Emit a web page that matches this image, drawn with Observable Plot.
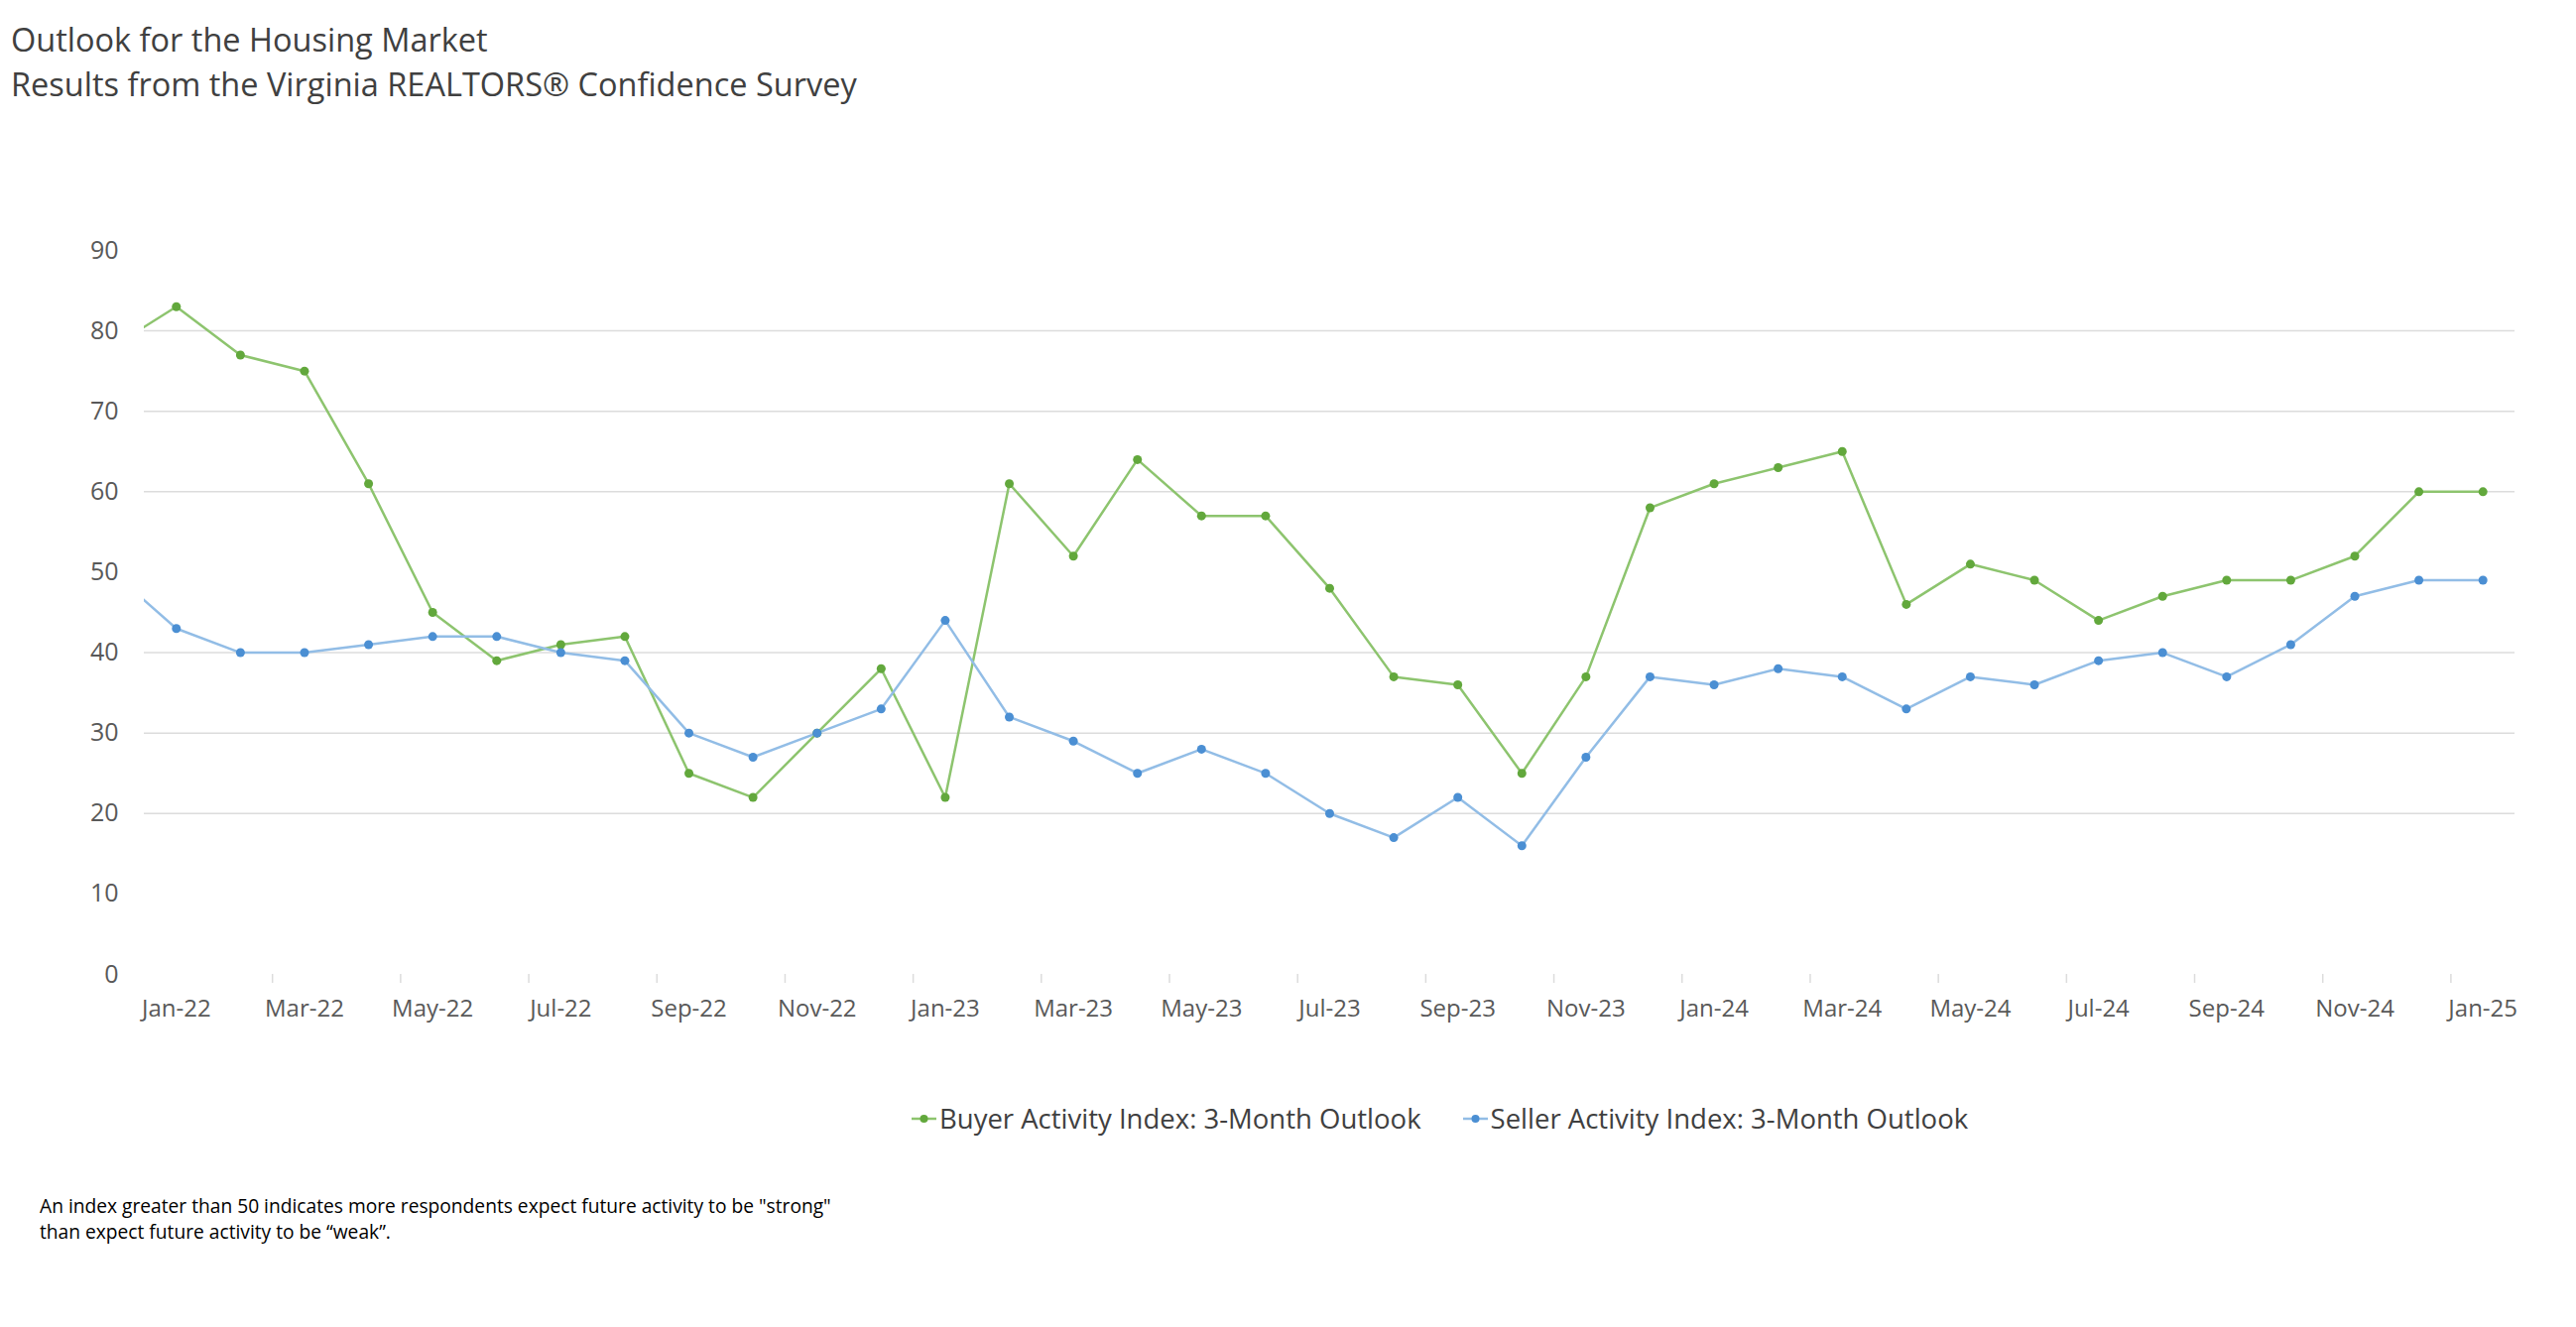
<!DOCTYPE html>
<html>
<head>
<meta charset="utf-8">
<script src="https://cdn.jsdelivr.net/npm/d3@7"></script>
<script src="https://cdn.jsdelivr.net/npm/@observablehq/plot@0.6"></script>
<style>
  html, body { margin: 0; padding: 0; background: #fff; }
  body { width: 2597px; height: 1338px; position: relative; font-family: "Open Sans", sans-serif; overflow: hidden; }
  #header { position: absolute; left: 11px; top: 17px; color: #404040; font-size: 32.5px; line-height: 45px; }
  #chart { position: absolute; left: 0; top: 120px; }
  #legend { position: absolute; left: 919px; top: 1109px; display: flex; align-items: center; font-size: 27.5px; color: #404040; white-space: nowrap; }
  .item { display: flex; align-items: center; margin-right: 42px; }
  .item svg { margin-right: 3px; }
  #note { position: absolute; left: 40px; top: 1203px; font-size: 19.2px; line-height: 26px; color: #000; }
</style>
</head>
<body>
<div id="header">
  <div>Outlook for the Housing Market</div>
  <div>Results from the Virginia REALTORS® Confidence Survey</div>
</div>
<div id="chart"></div>
<div id="legend"></div>
<div id="note">An index greater than 50 indicates more respondents expect future activity to be "strong"<br>than expect future activity to be “weak”.</div>
<script>
// Months from Dec-21 (partially visible at the left edge) through Jan-25
const months = ["Dec-21",
  "Jan-22","Feb-22","Mar-22","Apr-22","May-22","Jun-22","Jul-22","Aug-22","Sep-22","Oct-22","Nov-22","Dec-22",
  "Jan-23","Feb-23","Mar-23","Apr-23","May-23","Jun-23","Jul-23","Aug-23","Sep-23","Oct-23","Nov-23","Dec-23",
  "Jan-24","Feb-24","Mar-24","Apr-24","May-24","Jun-24","Jul-24","Aug-24","Sep-24","Oct-24","Nov-24","Dec-24",
  "Jan-25"];
const buyer = [78,
  83,77,75,61,45,39,41,42,25,22,30,38,
  22,61,52,64,57,57,48,37,36,25,37,58,
  61,63,65,46,51,49,44,47,49,49,52,60,
  60];
const seller = [50,
  43,40,40,41,42,42,40,39,30,27,30,33,
  44,32,29,25,28,25,20,17,22,16,27,37,
  36,38,37,33,37,36,39,40,37,41,47,49,
  49];
const seriesNames = ["Buyer Activity Index: 3-Month Outlook", "Seller Activity Index: 3-Month Outlook"];
const lineColors = ["#8dc46e", "#92bde6"];
const dotColors = ["#62a83c", "#4b8fd3"];
const yTicks = [0,10,20,30,40,50,60,70,80,90];
const gridValues = [20,30,40,60,70,80];
const xLabelMonths = ["Jan-22","Mar-22","May-22","Jul-22","Sep-22","Nov-22","Jan-23","Mar-23","May-23","Jul-23","Sep-23","Nov-23","Jan-24","Mar-24","May-24","Jul-24","Sep-24","Nov-24","Jan-25"];

const idx = m => months.indexOf(m) - 1; // Jan-22 -> 0
const rows = [];
months.forEach((m, i) => {
  rows.push({x: i - 1, v: buyer[i], s: seriesNames[0]});
  rows.push({x: i - 1, v: seller[i], s: seriesNames[1]});
});
const labelPos = xLabelMonths.map(idx);
const tickPos = labelPos.map(p => p - 0.5).filter(p => p > -0.5);

const chart = Plot.plot({
  width: 2597,
  height: 940,
  marginLeft: 145,
  marginRight: 62,
  marginTop: 132,
  marginBottom: 78,
  style: {fontFamily: "Open Sans, sans-serif", color: "#595959", background: "#fff"},
  x: {type: "linear", domain: [-0.5, labelPos[labelPos.length - 1] + 0.5], label: null},
  y: {domain: [0, 90], label: null},
  color: {domain: seriesNames, range: lineColors},
  marks: [
    Plot.ruleY(gridValues, {stroke: "#dcdcdc", strokeWidth: 1.5}),
    Plot.axisY(yTicks, {tickSize: 0, tickPadding: 26, fontSize: 25, fill: "#595959"}),
    Plot.axisX(labelPos, {tickSize: 0, tickPadding: 25, fontSize: 24, fill: "#595959", tickFormat: d => months[d + 1]}),
    Plot.axisX(tickPos, {tickSize: 9, stroke: "#dcdcdc", strokeWidth: 1.5, tickFormat: () => ""}),
    Plot.line(rows, {x: "x", y: "v", z: "s", stroke: "s", strokeWidth: 2.5, clip: true}),
    Plot.dot(rows, {x: "x", y: "v", fill: d => dotColors[seriesNames.indexOf(d.s)], r: 4.5, stroke: "none", clip: true})
  ]
});
document.getElementById("chart").appendChild(chart);

const legend = document.getElementById("legend");
seriesNames.forEach((name, i) => {
  const item = document.createElement("div");
  item.className = "item";
  item.innerHTML = `<svg width="25" height="12"><line x1="0" y1="6" x2="25" y2="6" stroke="${lineColors[i]}" stroke-width="2.5"/><circle cx="12.5" cy="6" r="4" fill="${dotColors[i]}"/></svg><span>${name}</span>`;
  legend.appendChild(item);
});
</script>
</body>
</html>
